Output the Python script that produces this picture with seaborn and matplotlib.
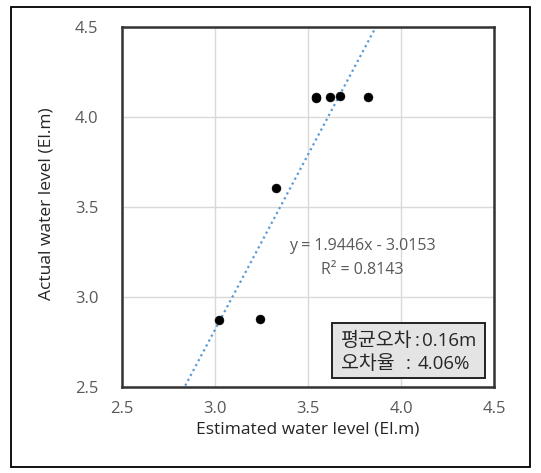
import matplotlib
matplotlib.use("Agg")
import matplotlib.pyplot as plt
import seaborn as sns
import numpy as np
import pandas as pd
from matplotlib.patches import Rectangle

# data
estimated = [3.02, 3.24, 3.33, 3.545, 3.545, 3.62, 3.67, 3.82]
actual = [2.875, 2.88, 3.605, 4.105, 4.11, 4.11, 4.115, 4.11]
slope = 1.9446
intercept = -3.0153
r2 = 0.8143
mean_err = "0.16m"
err_rate = "4.06%"
ticks = [2.5, 3.0, 3.5, 4.0, 4.5]

df = pd.DataFrame({"est": estimated, "act": actual})

sns.set_theme(style="white")
plt.rcParams['font.family'] = ['Open Sans', 'Noto Sans CJK KR', 'DejaVu Sans']
KR = ['Noto Sans CJK KR', 'DejaVu Sans']

fig = plt.figure(figsize=(5.41, 4.73), dpi=100)
ax = fig.add_axes([122/541, 1-387/473, 372/541, 360/473])

# outer frame
fig.patches.append(Rectangle((11/541, 1-467/473), (530-11)/541, (467-7)/473,
                             transform=fig.transFigure, fill=False,
                             edgecolor='black', lw=1.3, zorder=0))

ax.grid(True, color='#d9d9d9', lw=1)
ax.set_axisbelow(True)

# trendline
xs = np.array([2.5, 4.5])
ax.plot(xs, slope*xs + intercept, linestyle=(0, (1, 1.5)), color='#5b9bd5', lw=1.6, zorder=2)

sns.scatterplot(data=df, x="est", y="act", ax=ax, color='black', s=42,
                edgecolor='black', linewidth=0.3, zorder=3)

ax.set_xlim(2.5, 4.5)
ax.set_ylim(2.5, 4.5)
ax.set_xticks(ticks)
ax.set_yticks(ticks)
ax.set_xticklabels([f"{t:.1f}" for t in ticks])
ax.set_yticklabels([f"{t:.1f}" for t in ticks])
ax.tick_params(axis='both', length=0, labelsize=12, labelcolor='#595959')
ax.tick_params(axis='x', pad=10)
ax.tick_params(axis='y', pad=17)

for s in ax.spines.values():
    s.set_visible(True)
    s.set_color('#333333')
    s.set_linewidth(1.8)

ax.set_xlabel("Estimated water level (El.m)", fontsize=12.5, color='#262626', labelpad=3)
ax.set_ylabel("Actual water level (El.m)", fontsize=12.5, color='#262626')
ax.yaxis.set_label_coords(-(122-55)/372, 0.51)

ax.text(3.79, 3.283, f"y = {slope}x - {abs(intercept)}", ha='center', va='center',
        fontsize=11.5, color='#595959')
ax.text(3.79, 3.15, f"R² = {r2}", ha='center', va='center',
        fontsize=11.5, color='#595959')

# info box
ax.add_patch(Rectangle((3.629, 2.55), 4.45-3.629, 2.853-2.55, facecolor='#e4e4e4',
                       edgecolor='#222222', lw=1.4, zorder=5))
fs = 13.5
ax.text(3.675, 2.758, "평균오차", ha='left', va='center', fontsize=14, family=KR, zorder=6)
ax.text(3.675, 2.628, "오차율", ha='left', va='center', fontsize=14, family=KR, zorder=6)
ax.text(4.085, 2.758, ":", ha='center', va='center', fontsize=fs, zorder=6)
ax.text(4.04, 2.628, ":", ha='center', va='center', fontsize=fs, zorder=6)
ax.text(4.115, 2.758, mean_err, ha='left', va='center', fontsize=fs, zorder=6)
ax.text(4.088, 2.628, err_rate, ha='left', va='center', fontsize=fs, zorder=6)

fig.savefig("out.png", dpi=100)
